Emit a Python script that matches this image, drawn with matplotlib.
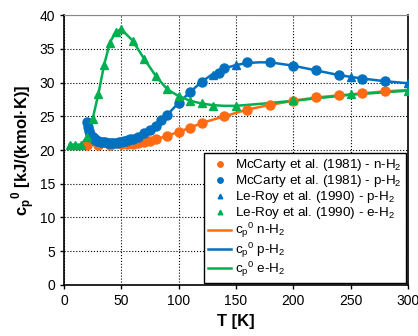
import matplotlib
matplotlib.use("Agg")
import matplotlib.pyplot as plt

plt.rcParams['font.family'] = ['Liberation Sans', 'DejaVu Sans']
plt.rcParams['mathtext.fontset'] = 'custom'
plt.rcParams['mathtext.rm'] = 'Liberation Sans'
plt.rcParams['mathtext.bf'] = 'Liberation Sans:bold'

ORANGE = '#FF6A13'
BLUE = '#0070C0'
GREEN = '#00B050'

# McCarty et al. (1981) n-H2 points
mc_n_T = [20, 30, 40, 50, 55, 60, 65, 70, 75, 80, 90, 100, 110, 120, 140, 160, 180, 200, 220, 240, 260, 280]
mc_n_cp = [20.8, 20.8, 20.8, 20.85, 20.9, 20.95, 21.05, 21.2, 21.4, 21.6, 22.1, 22.7, 23.3, 24.0, 25.0, 26.0, 26.7,
           27.3, 27.8, 28.1, 28.4, 28.7]

# McCarty et al. (1981) p-H2 points
mc_p_T = [20, 21, 22, 23, 24, 25, 26, 27, 28, 29, 30, 32, 34, 36, 38, 40, 42, 44, 46, 48, 50, 52, 54, 56, 58,
          60, 65, 70, 75, 80, 85, 90, 100, 110, 120, 135, 140, 160, 180, 200, 220, 240, 260, 280]
mc_p_cp = [24.1, 23.4, 22.8, 22.4, 22.1, 21.9, 21.7, 21.6, 21.5, 21.4, 21.35, 21.25, 21.2, 21.15, 21.1, 21.05,
           21.05, 21.05, 21.1, 21.15, 21.2, 21.3, 21.4, 21.5, 21.6, 21.7, 22.0, 22.5, 23.0, 23.6, 24.4, 25.2,
           27.0, 28.6, 30.1, 31.4, 32.1, 33.0, 33.0, 32.4, 31.8, 31.1, 30.6, 30.2]

# Le-Roy et al. (1990) p-H2 points
lr_p_T = [130, 150, 250, 300]
lr_p_cp = [31.1, 32.6, 30.8, 29.9]

# Le-Roy et al. (1990) e-H2 points
lr_e_T = [5, 10, 15, 20, 25, 30, 35, 40, 45, 50, 60, 70, 80, 90, 100, 110, 120, 130, 150, 200, 250, 300]
lr_e_cp = [20.8, 20.8, 20.8, 21.9, 24.6, 28.3, 32.6, 35.9, 37.5, 37.9, 36.2, 33.5, 31.0, 29.0, 28.0, 27.3, 26.9,
           26.6, 26.5, 27.4, 28.3, 28.8]

# model curves cp0
line_n_T = [20, 40, 60, 70, 80, 90, 100, 110, 120, 140, 160, 180, 200, 220, 240, 260, 280, 300]
line_n_cp = [20.8, 20.8, 20.95, 21.2, 21.6, 22.1, 22.7, 23.3, 24.0, 25.0, 26.0, 26.7, 27.3, 27.8, 28.1, 28.4,
             28.7, 28.9]
line_p_T = [20, 30, 40, 50, 60, 70, 80, 90, 100, 110, 120, 130, 140, 150, 160, 170, 180, 200, 220, 240, 260, 280, 300]
line_p_cp = [20.8, 20.8, 20.85, 21.0, 21.5, 22.4, 23.6, 25.2, 27.0, 28.6, 30.1, 31.3, 32.1, 32.6, 32.9, 33.0,
             33.0, 32.5, 31.8, 31.1, 30.6, 30.2, 29.9]
line_e_T = [5, 10, 15, 20, 25, 30, 35, 40, 45, 50, 60, 70, 80, 90, 100, 110, 120, 130, 140, 150, 175, 200, 250, 300]
line_e_cp = [20.8, 20.8, 20.8, 21.9, 24.6, 28.3, 32.6, 35.9, 37.5, 37.9, 36.2, 33.5, 31.0, 29.0, 28.0, 27.3,
             26.9, 26.65, 26.55, 26.55, 26.9, 27.3, 28.2, 28.8]

fig = plt.figure(figsize=(4.18, 3.36), dpi=100)
ax = fig.add_axes([0.153, 0.152, 0.823, 0.803])

lw = 1.8
ax.plot(line_n_T, line_n_cp, color=ORANGE, lw=lw, zorder=2)
ax.plot(line_p_T, line_p_cp, color=BLUE, lw=lw, zorder=2)
ax.plot(line_e_T, line_e_cp, color=GREEN, lw=lw, zorder=2)

h1, = ax.plot(mc_n_T, mc_n_cp, 'o', color=ORANGE, ms=6.5, mec=ORANGE, zorder=3)
h2, = ax.plot(mc_p_T, mc_p_cp, 'o', color=BLUE, ms=6.5, mec=BLUE, zorder=4)
h3, = ax.plot(lr_p_T, lr_p_cp, '^', color=BLUE, ms=5.5, mec=BLUE, zorder=5)
h4, = ax.plot(lr_e_T, lr_e_cp, '^', color=GREEN, ms=5.5, mec=GREEN, zorder=5)

ax.set_xlim(0, 300)
ax.set_ylim(0, 40)
ax.set_xticks(range(0, 301, 50))
ax.set_yticks(range(0, 41, 5))
ax.tick_params(axis='both', labelsize=10, direction='out', length=3, width=1, color='black')
ax.grid(True, color='black', linestyle=':', linewidth=0.8)
ax.set_axisbelow(True)
for s in ['left', 'bottom', 'right']:
    ax.spines[s].set_color('black')
    ax.spines[s].set_linewidth(1.2)
ax.spines['top'].set_color('#888888')
ax.spines['top'].set_linewidth(0.8)

ax.set_xlabel('T [K]', fontsize=12, fontweight='bold', labelpad=4)
ax.set_ylabel('c$_\\mathbf{p}$$^\\mathbf{0}$ [kJ/(kmol·K)]', fontsize=12, fontweight='bold', labelpad=2)

lines = ax.get_lines()[:3]
handles = [h1, h2, h3, h4] + lines
labels = ['McCarty et al. (1981) - n-H$_2$', 'McCarty et al. (1981) - p-H$_2$',
          'Le-Roy et al. (1990) - p-H$_2$', 'Le-Roy et al. (1990) - e-H$_2$',
          'c$_\\mathrm{p}$$^\\mathrm{0}$ n-H$_2$', 'c$_\\mathrm{p}$$^\\mathrm{0}$ p-H$_2$',
          'c$_\\mathrm{p}$$^\\mathrm{0}$ e-H$_2$']
leg = ax.legend(handles, labels, loc='lower right', fontsize=9.7, frameon=True, fancybox=False,
                edgecolor='black', framealpha=1, borderaxespad=0.15, markerscale=0.6,
                handlelength=1.7, handletextpad=0.3, labelspacing=0.0, borderpad=0.3)
leg.get_frame().set_linewidth(1.0)

fig.savefig('out.png', dpi=100)
